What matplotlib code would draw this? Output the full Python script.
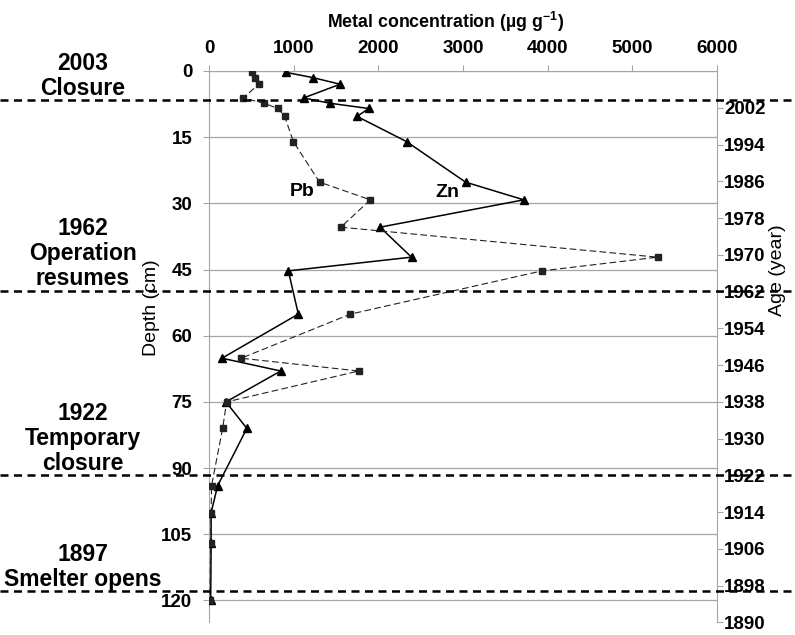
import matplotlib
matplotlib.use("Agg")
import matplotlib.pyplot as plt

# sample depths (cm), shared by both metals
depth = [0.3, 1.5, 3.0, 6.1, 7.3, 8.5, 10.3, 16.0, 25.2, 29.2, 35.4, 42.2,
         45.3, 55.1, 65.1, 68.0, 75.0, 81.0, 94.0, 100.1, 107.0, 120.0]
# metal concentrations (ug/g)
pb = [510, 541, 588, 404, 647, 816, 894, 996, 1306, 1906, 1557, 5298,
      3933, 1671, 380, 1769, 208, 161, 30, 25, 20, 10]
zn = [906, 1227, 1549, 1118, 1424, 1886, 1749, 2333, 3031, 3718, 2020, 2392,
      937, 1055, 153, 847, 200, 447, 102, 25, 25, 20]

# smelter history (dashed lines sit where they were drawn on the age axis)
event_lines = [2003.7, 1962.2, 1922.2, 1896.9]
event_labels = ["2003\nClosure", "1962\nOperation\nresumes",
                "1922\nTemporary\nclosure", "1897\nSmelter opens"]

conc_ticks = [0, 1000, 2000, 3000, 4000, 5000, 6000]
depth_ticks = [0, 15, 30, 45, 60, 75, 90, 105, 120]
year_ticks = [1890, 1898, 1906, 1914, 1922, 1930, 1938, 1946, 1954, 1962,
              1970, 1978, 1986, 1994, 2002]

plt.rcParams['font.family'] = ['Liberation Sans', 'DejaVu Sans']
plt.rcParams['font.weight'] = 'bold'
plt.rcParams['mathtext.default'] = 'regular'
grey = '#a6a6a6'

fig = plt.figure(figsize=(7.95, 6.35), dpi=100)
ax = fig.add_axes([0.2629, 0.0197, 0.6390, 0.8685])

# data
ax.plot(zn, depth, color='black', lw=1.1, marker='^', ms=5.5, zorder=4)
ax.plot(pb, depth, color='#222222', lw=0.8, ls=(0, (6, 3)), marker='s',
        ms=4.8, zorder=4)
ax.text(1094, 27.4, 'Pb', ha='center', va='center', fontsize=14, fontweight='bold')
ax.text(2812, 27.6, 'Zn', ha='center', va='center', fontsize=14, fontweight='bold')

ax.set_xlim(0, 6000)
ax.set_ylim(125, 0)
ax.set_xticks(conc_ticks)
ax.set_yticks(depth_ticks)
ax.xaxis.tick_top()
ax.yaxis.grid(True, color=grey, lw=0.9, zorder=0)
ax.set_axisbelow(True)
ax.tick_params(axis='x', direction='out', length=4, color=grey, labelsize=13.5, pad=6)
ax.tick_params(axis='y', direction='out', length=4, color=grey, labelsize=13.5, pad=8)
for s in ['bottom', 'right']:
    ax.spines[s].set_visible(False)
for s in ['top', 'left']:
    ax.spines[s].set_color(grey)

# age axis on the right
ax2 = ax.twinx()
ax2.set_ylim(1890, 2010)
ax2.set_yticks(year_ticks)
ax2.tick_params(axis='y', direction='out', length=4, color=grey, labelsize=13.5, pad=1)
for s in ['bottom', 'top', 'left']:
    ax2.spines[s].set_visible(False)
ax2.spines['right'].set_color(grey)

# event lines across the whole figure
x0 = -209 / 508
x1 = (795 - 209) / 508
for yr in event_lines:
    ax2.axhline(yr, xmin=x0, xmax=x1, color='black', lw=1.8,
                ls=(0, (3.2, 2.2)), clip_on=False, zorder=5)

label_bottoms = [100, 290, 475, 591]
for lab, yb in zip(event_labels, label_bottoms):
    fig.text(83 / 795, 1 - yb / 635, lab, ha='center', va='bottom',
             fontsize=16.5, fontweight='bold', linespacing=1.1,
             multialignment='center')

fig.text(446 / 795, 1 - 28 / 635, r'Metal concentration (µg g$^{-1}$)',
         ha='center', va='baseline', fontsize=12.8, fontweight='bold')
fig.text(152 / 795, 1 - 308 / 635, 'Depth (cm)', rotation=90, ha='center',
         va='center', fontsize=14, fontweight='normal')
fig.text(778 / 795, 1 - 270 / 635, 'Age (year)', rotation=90, ha='center',
         va='center', fontsize=14, fontweight='normal')

fig.savefig('out.png', dpi=100)
